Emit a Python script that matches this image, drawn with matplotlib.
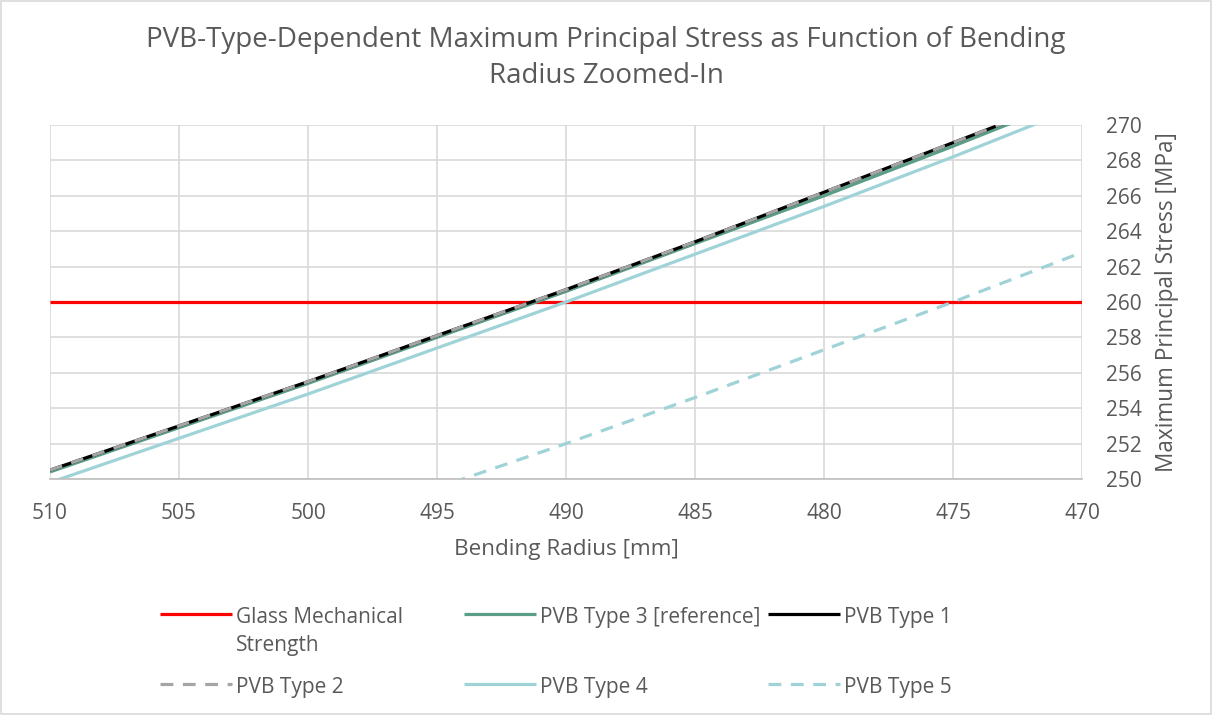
import matplotlib
matplotlib.use("Agg")
import matplotlib.pyplot as plt
from matplotlib.lines import Line2D
from matplotlib.patches import Rectangle

# Bending radius [mm] and maximum principal stress [MPa] per PVB interlayer type
radius = [510, 505, 500, 495, 490, 485, 480, 475, 470]
glass_strength = [260, 260, 260, 260, 260, 260, 260, 260, 260]
pvb_type1 = [250.5, 253.0, 255.5, 258.1, 260.7, 263.4, 266.2, 269.0, 271.8]
pvb_type2 = [250.5, 253.0, 255.5, 258.1, 260.7, 263.4, 266.2, 269.0, 271.8]
pvb_type3 = [250.4, 252.9, 255.4, 258.0, 260.6, 263.3, 266.0, 268.8, 271.7]
pvb_type4 = [249.8, 252.3, 254.8, 257.4, 260.0, 262.7, 265.4, 268.2, 271.1]
pvb_type5 = [242.2, 244.6, 247.0, 249.5, 252.0, 254.6, 257.3, 260.0, 262.8]

x_ticks = [510, 505, 500, 495, 490, 485, 480, 475, 470]
y_ticks = [250, 252, 254, 256, 258, 260, 262, 264, 266, 268, 270]

TEXT = "#595959"
GRID = "#D9D9D9"
FONT = "Open Sans"
LW = 2.3

series = [
    ("Glass Mechanical\nStrength", glass_strength, dict(color="#FF0000", ls="-")),
    ("PVB Type 3 [reference]", pvb_type3, dict(color="#5A9E89", ls="-")),
    ("PVB Type 1", pvb_type1, dict(color="#000000", ls="-")),
    ("PVB Type 2", pvb_type2, dict(color="#A5A5A5", ls=(0, (4, 3)))),
    ("PVB Type 4", pvb_type4, dict(color="#9FD3D7", ls="-")),
    ("PVB Type 5", pvb_type5, dict(color="#9FD3D7", ls=(0, (4, 3)))),
]

W, H = 1212, 715
fig = plt.figure(figsize=(W / 100, H / 100), dpi=100)
fig.patch.set_facecolor("white")

def fx(px):
    return px / W

def fy(py):
    return 1 - py / H

ax = fig.add_axes([fx(50), fy(479), fx(1082) - fx(50), fy(125) - fy(479)])

for label, values, style in series:
    ax.plot(radius, values, lw=LW, solid_capstyle="butt", dash_capstyle="butt",
            **style)

ax.set_xlim(510, 470)
ax.set_ylim(250, 270)
ax.set_xticks(x_ticks)
ax.set_yticks(y_ticks)
ax.grid(True, color=GRID, lw=1.2)
ax.set_axisbelow(True)
for side in ("left", "right", "top"):
    ax.spines[side].set_visible(False)
ax.spines["bottom"].set_color("#BFBFBF")
ax.spines["bottom"].set_linewidth(1.2)

ax.yaxis.tick_right()
ax.yaxis.set_label_position("right")
ax.tick_params(axis="x", length=0, labelsize=15, labelcolor=TEXT, pad=17)
ax.tick_params(axis="y", length=0, labelsize=15, labelcolor=TEXT, pad=17,
               right=True, labelright=True, left=False, labelleft=False)
for lab in ax.get_xticklabels() + ax.get_yticklabels():
    lab.set_fontfamily(FONT)

ax.set_xlabel("Bending Radius [mm]", fontsize=16.2, color=TEXT, family=FONT,
              labelpad=11)
ax.set_ylabel("Maximum Principal Stress [MPa]", fontsize=16.3, color=TEXT,
              family=FONT, labelpad=10)

fig.text(0.5, fy(58), "PVB-Type-Dependent Maximum Principal Stress as Function of Bending\nRadius Zoomed-In",
         ha="center", va="center", fontsize=20, color=TEXT, family=FONT,
         linespacing=1.35)

# Legend laid out as a 3-column grid below the plot
col_x = [160, 464, 768]
row_y = [614, 684]
handle_len = 72
for i, (label, values, style) in enumerate(series):
    r, c = divmod(i, 3)
    x0 = col_x[c]
    y0 = row_y[r]
    fig.add_artist(Line2D([fx(x0), fx(x0 + handle_len)], [fy(y0), fy(y0)],
                          transform=fig.transFigure, lw=LW,
                          solid_capstyle="butt", dash_capstyle="butt", **style))
    fig.text(fx(x0 + 76), fy(y0 - 7), label, ha="left", va="top",
             fontsize=15, color=TEXT, family=FONT, linespacing=1.42)

fig.add_artist(Rectangle((0.0008, 0.0012), 0.9984, 0.9976, transform=fig.transFigure,
                         fill=False, edgecolor=GRID, lw=1.2))

fig.savefig("out.png", dpi=100, facecolor="white")
